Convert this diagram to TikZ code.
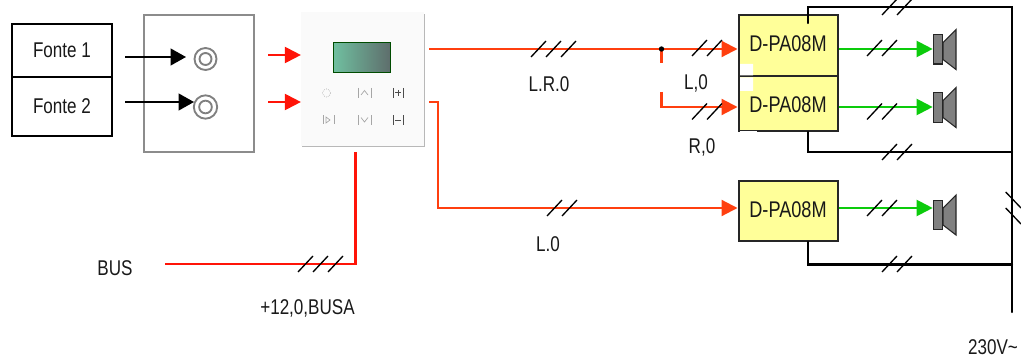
\documentclass[tikz,border=0pt]{standalone}
\usepackage{fontspec}
\setmainfont[FakeStretch=0.8]{Liberation Sans}
\usetikzlibrary{arrows.meta}
\definecolor{orangered}{HTML}{FF3F0F}
\definecolor{purered}{HTML}{FF1408}
\definecolor{sigreen}{HTML}{0CCB0C}
\definecolor{ampfill}{HTML}{FFFF99}
\definecolor{frameg}{HTML}{8C8C8C}
\definecolor{scrL}{HTML}{70C0A0}
\definecolor{scrR}{HTML}{5E6E6C}
\definecolor{spk}{HTML}{808080}
\tikzset{
 x=0.75pt,y=-0.75pt,
 lbl/.style={inner sep=0pt,font=\fontsize{16}{18}\selectfont,text=black!90},
 amplbl/.style={inner sep=0pt,font=\fontsize{17}{18}\selectfont,text=black!90},
 srcbox/.style={draw=black,line width=1.5pt,minimum width=75pt,inner sep=0pt},
 ampbox/.style={draw=black!85,line width=1.5pt,fill=ampfill,minimum width=74.6pt,inner sep=0pt},
 blk/.style={draw=black,line width=1.5pt},
 blkar/.style={blk,-{Triangle[length=11.5pt,width=12.5pt]}},
 redar/.style={draw=purered,line width=1.6pt,-{Triangle[length=12pt,width=12pt]}},
 ora/.style={draw=orangered,line width=1.6pt},
 oraar/.style={ora,-{Triangle[length=12pt,width=12pt]}},
 grn/.style={draw=sigreen,line width=1.6pt,-{Triangle[length=12pt,width=12pt]}},
 redl/.style={draw=purered,line width=1.8pt},
 pw/.style={draw=black,line width=1.7pt,line cap=round},
 tick/.style={draw=black,line width=1pt},
 jack/.style={draw=black!50,line width=1.4pt,fill=white},
 btn/.style={draw=black!35,line width=.5pt},
 btnd/.style={draw=black!70,line width=.75pt},
}
\newcommand{\slashes}[3]{% x start, y bottom, count
  \foreach \k in {1,...,#3}{\draw[tick] (#1+\k*15-15,#2) -- ++(15,-16);}}
\newcommand{\speaker}[2]{% name, y centre
  \node[draw=black!85,line width=1pt,fill=spk,minimum width=7pt,minimum height=22pt,inner sep=0pt] (#1) at (938,#2) {};
  \draw[draw=black!85,line width=.8pt,fill=spk] (943,#2-7) -- (956,#2-20) -- (956,#2+20) -- (943,#2+10) -- cycle;}
\begin{document}
\begin{tikzpicture}
\useasboundingbox (0,0) rectangle (1021,360);
\begin{scope}
\clip (0,0) rectangle (1021,360);
% sources
\node[srcbox,minimum height=39.7pt] (f1) at (62,50.5) {};
\node[srcbox,minimum height=44.2pt] (f2) at (62,106.5) {};
\node[lbl] at (f1.center) {Fonte 1};
\node[lbl] at (f2.center) {Fonte 2};
% wall plate
\node[draw=frameg,line width=1.3pt,minimum width=82.5pt,minimum height=102.7pt,inner sep=0pt] (plate) at (199,83.5) {};
\node[jack,circle,minimum size=16.5pt,inner sep=0pt] (j1) at (205.5,59) {};
\node[jack,circle,minimum size=9pt,inner sep=0pt] at (205.5,59) {};
\node[jack,circle,minimum size=17.5pt,inner sep=0pt] (j2) at (205.5,107) {};
\node[jack,circle,minimum size=9.5pt,inner sep=0pt] at (205.5,107) {};
\coordinate (s1) at (125,57);
\coordinate (s2) at (125,102);
\draw[blkar] (s1) -- (186,57);
\draw[blkar] (s2) -- (194,102);
% panel
\fill[black!28] (302,14) rectangle (425,147);
\node[fill=black!2,minimum width=92pt,minimum height=100.5pt,inner sep=0pt] (panel) at (362.5,79) {};
\node[draw=black!70!green,line width=.7pt,left color=scrL,right color=scrR,minimum width=42.7pt,minimum height=23pt,inner sep=0pt] (screen) at (361.5,57.5) {};
\draw[btn,densely dotted] (326.5,93) circle (4);
\draw[btn] (358,88) -- (358,98) (371,88) -- (371,98);
\draw[btn] (361,95) -- (364.5,90.5) -- (368,95);
\draw[btnd] (393,88) -- (393,98) (403,88) -- (403,98) (395,93) -- (401,93) (398,90) -- (398,96);
\draw[btn] (323,115) -- (323,124) (334,115) -- (334,124);
\draw[btn] (326,117) -- (330,120) -- (326,123) -- cycle;
\draw[btn] (358,115) -- (358,125) (371,115) -- (371,125);
\draw[btn] (361,117.5) -- (364.5,122) -- (368,117.5);
\draw[btnd] (393,115) -- (393,125) (403,115) -- (403,125) (395,120) -- (401,120);
% inputs of panel
\coordinate (p1) at (268,55);
\coordinate (p2) at (268,102);
\draw[redar] (p1) -- (panel.west |- p1);
\draw[redar] (p2) -- (panel.west |- p2);
% amplifiers
\node[ampbox,minimum height=45.7pt] (a1) at (788.25,45.5) {};
\node[ampbox,minimum height=41.2pt] (a2) at (788.25,103.5) {};
\node[ampbox,minimum height=45pt] (a3) at (788.25,211) {};
\fill[white] (740,64) rectangle (753,75.5) (740,77.5) rectangle (753,91);
\fill[white] (740,130.5) rectangle (757,132);
\node[amplbl] at (788,44) {D-PA08M};
\node[amplbl] at (788,105) {D-PA08M};
\node[amplbl] at (788,210) {D-PA08M};
% speakers
\speaker{sp1}{49.5}
\speaker{sp2}{107.5}
\speaker{sp3}{215}
% audio lines
\coordinate (o1) at (429,49);
\coordinate (o2) at (429,102);
\coordinate (jn) at (661.5,49);
\coordinate (jd) at (661.5,63);
\coordinate (jr) at (661.5,92);
\coordinate (y2) at (661.5,107);
\coordinate (y3) at (438,208);
\draw[oraar] (o1) -- (a1.west |- o1);
\draw[ora] (jn) -- (jd);
\draw[oraar] (jr) -- (y2) -- (a2.west |- y2);
\draw[oraar] (o2) -- (y3 |- o2) -- (y3) -- (a3.west |- y3);
\fill[black] (jn) circle (2.7);
\draw[grn] (a1.east |- o1) -- (sp1.west |- o1);
\draw[grn] (a2.east |- y2) -- (sp2.west |- y2);
\draw[grn] (a3.east |- y3) -- (sp3.west |- y3);
% bus
\coordinate (bus) at (165,264);
\draw[redl] (bus) -- (355.5,264) -- (355.5,152);
% mains
\coordinate (m1) at (808,23);
\coordinate (mt) at (1012,7);
\coordinate (mb) at (1012,312);
\draw[pw] (m1) -- (m1 |- mt) -- (mt) -- (mb);
\draw[pw] (a2.south -| m1) -- (808,152) -- (1012,152);
\draw[pw] (a3.south -| m1) -- (808,264.5) -- (1012,264.5);
% ticks
\slashes{531}{57}{3}
\slashes{692}{56}{2}
\slashes{692}{119.5}{2}
\slashes{547}{216}{2}
\slashes{298}{272}{3}
\slashes{867}{56}{2}
\slashes{867}{119.5}{2}
\slashes{867}{216}{2}
\slashes{882}{15}{2}
\slashes{882}{160}{2}
\slashes{882}{272}{2}
\draw[tick] (1005.7,192) -- (1021,208) (1005.7,208) -- (1021,224);
\end{scope}
% labels
\node[lbl] at (549,84) {L.R.0};
\node[lbl] at (696,83) {L,0};
\node[lbl] at (702,147) {R,0};
\node[lbl] at (548,244) {L.0};
\node[lbl] at (115,268) {BUS};
\node[lbl] at (307.5,308) {+12,0,BUSA};
\node[lbl] at (993,347) {230V\textasciitilde};
\end{tikzpicture}
\end{document}
